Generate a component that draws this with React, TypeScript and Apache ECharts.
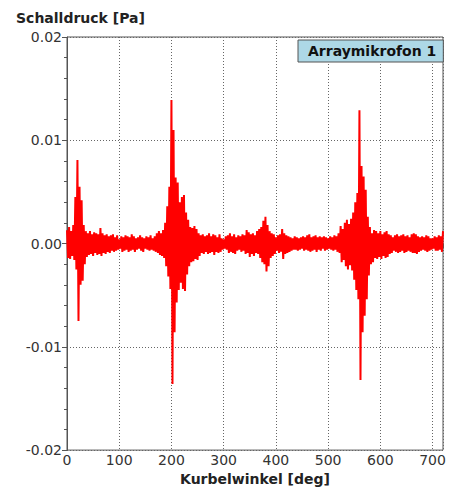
import React, { useEffect, useRef } from "react";
import * as echarts from "echarts";

// Sampling step of the envelope (degrees crank angle)
const ANGLE_STEP = 4;
const X_MIN = 0;
const X_MAX = 720;
const Y_MIN = -0.02;
const Y_MAX = 0.02;
const SERIES_NAME = "Arraymikrofon 1";
const X_NAME = "Kurbelwinkel [deg]";
const Y_NAME = "Schalldruck [Pa]";

// Upper envelope of the sound pressure, in mPa, at 0,4,8,...,720 deg
const upperMPa = [
  1.3, 1.6, 1.2, 1.8, 4.5, 8.1, 5.5, 4.2, 1.8, 1.2,
  1.0, 1.2, 0.9, 1.1, 1.0, 0.9, 1.5, 1.0, 0.8, 0.9,
  0.7, 0.8, 0.9, 0.6, 0.8, 0.4, 0.7, 0.6, 0.8, 0.7,
  0.6, 0.9, 0.7, 0.5, 0.6, 0.8, 0.6, 0.5, 0.7, 0.6,
  0.8, 0.5, 0.7, 1.0, 1.2, 1.0, 1.3, 2.0, 3.6, 5.5,
  13.9, 11.0, 6.4, 5.9, 4.0, 4.5, 4.7, 3.0, 2.3, 1.6,
  1.5, 1.7, 1.4, 1.0, 0.8, 0.9, 0.7, 0.8, 1.0, 0.7,
  0.9, 0.8, 0.6, 0.9, 0.5, 0.4, 0.7, 0.8, 1.0, 0.7,
  0.9, 0.6, 0.8, 0.7, 0.9, 0.8, 1.3, 1.1, 0.9, 1.0,
  0.8, 1.2, 1.4, 1.6, 2.2, 2.6, 1.8, 1.2, 1.0, 0.9,
  0.6, 0.8, 0.9, 1.4, 1.0, 0.8, 0.7, 0.6, 0.5, 0.7,
  0.6, 0.5, 0.6, 0.7, 0.6, 0.8, 0.9, 0.6, 0.7, 0.8,
  0.6, 0.7, 0.6, 0.7, 0.6, 0.5, 0.7, 0.6, 0.8, 0.7,
  1.0, 1.7, 1.4, 2.0, 2.3, 1.9, 2.4, 3.0, 4.0, 4.9,
  12.9, 7.5, 6.5, 5.2, 2.6, 1.6, 1.0, 1.3, 1.2, 1.0,
  1.2, 0.9, 1.1, 1.2, 0.9, 0.8, 0.6, 0.8, 0.9, 0.7,
  0.8, 0.9, 0.7, 0.8, 0.6, 0.9, 1.0, 0.9, 0.7, 0.6,
  0.7, 0.6, 0.8, 0.7, 0.5, 0.5, 0.7, 0.6, 0.8, 0.7,
  1.2,
];

// Lower envelope, in mPa, at 2,6,10,...,718 deg
const lowerMPa = [
  -1.4, -1.5, -1.2, -1.6, -2.5, -7.5, -4.0, -3.6, -2.0, -1.3,
  -1.1, -1.0, -1.2, -0.9, -1.1, -1.0, -1.2, -0.9, -1.0, -0.8,
  -0.9, -0.7, -0.8, -0.7, -0.6, -0.5, -0.8, -0.7, -0.6, -0.8,
  -0.7, -0.6, -0.8, -0.6, -0.5, -0.7, -0.8, -0.5, -0.6, -0.7,
  -0.6, -0.7, -0.8, -0.9, -1.1, -1.2, -1.4, -2.2, -3.2, -4.4,
  -13.6, -8.6, -5.7, -4.5, -3.8, -4.4, -4.6, -3.0, -2.2, -1.8,
  -1.7, -1.5, -1.6, -1.2, -0.9, -1.0, -0.8, -1.0, -0.9, -0.8,
  -1.1, -0.8, -0.9, -0.8, -0.6, -0.5, -0.6, -0.9, -0.8, -0.9,
  -1.0, -0.7, -0.6, -0.8, -0.7, -1.0, -0.9, -1.3, -1.0, -1.2,
  -0.9, -1.0, -1.4, -1.8, -2.0, -2.7, -2.2, -1.4, -1.2, -1.0,
  -0.7, -0.9, -0.8, -1.5, -1.0, -0.9, -0.8, -0.7, -0.6, -0.6,
  -0.7, -0.6, -0.5, -0.7, -0.6, -0.7, -0.8, -0.7, -0.6, -0.8,
  -0.6, -0.7, -0.5, -0.7, -0.6, -0.5, -0.6, -0.7, -0.6, -0.8,
  -0.9, -1.8, -1.6, -2.2, -2.5, -2.1, -2.6, -3.5, -4.5, -5.4,
  -13.2, -8.6, -7.0, -5.4, -3.1, -2.0, -1.8, -1.4, -1.5, -1.3,
  -1.5, -1.2, -1.4, -1.3, -1.0, -0.9, -0.7, -0.8, -0.9, -0.8,
  -0.7, -0.9, -0.8, -0.7, -0.8, -0.9, -0.9, -1.0, -0.8, -0.7,
  -0.6, -0.7, -0.8, -0.7, -0.6, -0.5, -0.7, -0.7, -0.6, -0.8,
];

function buildSignal(): [number, number][] {
  const pts: [number, number][] = [];
  upperMPa.forEach((h, i) => {
    const a = i * ANGLE_STEP;
    pts.push([a, h / 1000]);
    if (i < lowerMPa.length) {
      const b = a + ANGLE_STEP / 2;
      if (b <= X_MAX) pts.push([b, lowerMPa[i] / 1000]);
    }
  });
  return pts;
}

const FONT = "DejaVu Sans";

export default function App() {
  const ref = useRef<HTMLDivElement>(null);

  useEffect(() => {
    if (!ref.current) return;
    const chart = echarts.init(ref.current, null, { renderer: "svg" });
    const axisColor = "#555555";
    chart.setOption({
      animation: false,
      backgroundColor: "#ffffff",
      textStyle: { fontFamily: FONT },
      title: {
        text: Y_NAME,
        left: 16,
        top: 11,
        padding: 0,
        textStyle: { fontFamily: FONT, fontSize: 14, fontWeight: "bold", color: "#222222" },
      },
      legend: {
        data: [SERIES_NAME],
        left: 298,
        top: 40,
        icon: "none",
        itemWidth: 0,
        itemHeight: 14,
        padding: [3, 7, 3, 5],
        backgroundColor: "#add8e6",
        borderColor: "#555555",
        borderWidth: 1,
        selectedMode: false,
        textStyle: { fontFamily: FONT, fontSize: 14, fontWeight: "bold", color: "#111111", lineHeight: 16 },
      },
      grid: {
        left: 67,
        right: 6,
        top: 37,
        bottom: 39,
        show: true,
        borderColor: axisColor,
        borderWidth: 1,
      },
      xAxis: {
        type: "value",
        min: X_MIN,
        max: X_MAX,
        interval: 100,
        name: X_NAME,
        nameLocation: "middle",
        nameGap: 14,
        nameTextStyle: { fontFamily: FONT, fontSize: 14, fontWeight: "bold", color: "#222222" },
        axisLine: { show: true, lineStyle: { color: axisColor, width: 1 } },
        axisTick: { show: true, length: 5, lineStyle: { color: axisColor } },
        minorTick: { show: true, splitNumber: 5, length: 3, lineStyle: { color: axisColor } },
        axisLabel: { margin: 3, fontSize: 14, color: "#333333", fontFamily: FONT, showMaxLabel: false },
        splitLine: { show: true, lineStyle: { color: "#666666", type: [1, 2], width: 1 } },
      },
      yAxis: {
        type: "value",
        min: Y_MIN,
        max: Y_MAX,
        interval: 0.01,
        axisLine: { show: true, lineStyle: { color: axisColor, width: 1 } },
        axisTick: { show: true, length: 5, lineStyle: { color: axisColor } },
        minorTick: { show: true, splitNumber: 5, length: 3, lineStyle: { color: axisColor } },
        axisLabel: {
          margin: 5,
          fontSize: 14,
          color: "#333333",
          fontFamily: FONT,
          formatter: (v: number) => v.toFixed(2),
        },
        splitLine: { show: true, lineStyle: { color: "#666666", type: [1, 2], width: 1 } },
      },
      series: [
        {
          name: SERIES_NAME,
          type: "line",
          data: buildSignal(),
          showSymbol: false,
          symbol: "none",
          lineStyle: { color: "#ff0000", width: 2, join: "bevel" },
          itemStyle: { color: "#ff0000" },
          clip: true,
        },
      ],
    });
    return () => chart.dispose();
  }, []);

  return (
    <div
      ref={ref}
      style={{ position: "fixed", left: 0, top: 0, width: 449, height: 491, background: "#fff" }}
    />
  );
}
